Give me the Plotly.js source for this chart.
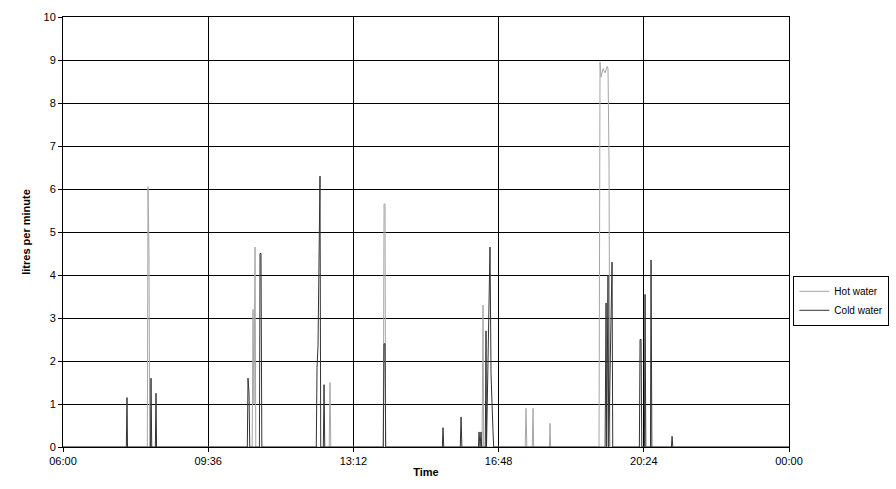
<!DOCTYPE html>
<html>
<head>
<script src="https://cdn.plot.ly/plotly-3.0.1.min.js"></script>
<style>body{margin:0}#chart{width:896px;height:489px}</style>
</head>
<body>
<div id="chart"></div>
<script>
// time in hours of day, flow in litres per minute
var hotTime = [6, 8.09, 8.108, 8.132, 8.15, 10.69, 10.711, 10.735, 10.761, 10.78, 12.6, 12.62, 12.64,
    13.94, 13.96, 13.984, 14.0, 16.39, 16.414, 16.43, 17.46, 17.48, 17.5, 17.635, 17.654, 17.67,
    18.06, 18.075, 18.09, 19.29, 19.315, 19.34, 19.39, 19.44, 19.49, 19.513, 19.538, 19.56, 24];
var hotFlow = [0, 0, 6.05, 4.5, 0, 0, 3.2, 1, 4.65, 0, 0, 1.5, 0,
    0, 5.65, 5.65, 0, 0, 3.3, 0, 0, 0.9, 0, 0, 0.9, 0,
    0, 0.55, 0, 0, 8.95, 8.6, 8.8, 8.7, 8.85, 8.8, 6.6, 0, 0];

var coldTime = [6, 7.57, 7.587, 7.6, 8.17, 8.182, 8.2, 8.29, 8.306, 8.32,
    10.57, 10.587, 10.612, 10.63, 10.87, 10.885, 10.909, 10.93,
    12.28, 12.298, 12.323, 12.372, 12.39, 12.455, 12.472, 12.49,
    13.94, 13.959, 13.984, 14.0, 15.405, 15.422, 15.44, 15.85, 15.869, 15.89,
    16.3, 16.315, 16.34, 16.364, 16.38, 16.47, 16.488, 16.5, 16.587, 16.612, 16.662, 16.68,
    19.44, 19.464, 19.48, 19.513, 19.53, 19.613, 19.63,
    20.29, 20.307, 20.332, 20.35, 20.415, 20.431, 20.45, 20.565, 20.58, 20.6,
    21.085, 21.101, 21.12, 24];
var coldFlow = [0, 0, 1.15, 0, 0, 1.6, 0, 0, 1.25, 0,
    0, 1.6, 1.25, 0, 0, 4.5, 4.5, 0,
    0, 1.85, 2.35, 6.3, 0, 0, 1.45, 0,
    0, 2.4, 2.4, 0, 0, 0.45, 0, 0, 0.7, 0,
    0, 0.35, 0, 0.35, 0, 0, 2.7, 0, 4.65, 1.7, 0.35, 0,
    0, 3.35, 0, 4.0, 0, 4.3, 0,
    0, 2.5, 2.5, 0, 0, 3.55, 0, 0, 4.35, 0,
    0, 0.25, 0, 0];

var tickVals = [6, 9.6, 13.2, 16.8, 20.4, 24];
var tickText = ['06:00', '09:36', '13:12', '16:48', '20:24', '00:00'];

var data = [{
    x: hotTime, y: hotFlow, name: 'Hot water', mode: 'lines',
    line: {color: '#a6a6a6', width: 1}
}, {
    x: coldTime, y: coldFlow, name: 'Cold water', mode: 'lines',
    line: {color: '#333333', width: 1}
}];

var layout = {
    width: 896, height: 489,
    margin: {l: 63, r: 107, t: 17, b: 42, autoexpand: false},
    font: {family: 'Liberation Sans, Arial', size: 11, color: '#000'},
    paper_bgcolor: '#fff', plot_bgcolor: '#fff',
    showlegend: true,
    legend: {x: 1.006, y: 0.34, xanchor: 'left', yanchor: 'middle',
        bordercolor: '#000', borderwidth: 1, font: {size: 10},
        tracegroupgap: 0, itemwidth: 30},
    xaxis: {
        range: [6, 24], tickvals: tickVals, ticktext: tickText,
        showgrid: true, gridcolor: '#000', gridwidth: 1,
        showline: true, linecolor: '#000', mirror: true, zeroline: false,
        ticks: 'outside', ticklen: 4, tickcolor: '#000',
        title: {text: '<b>Time</b>', standoff: 2, font: {size: 11}}
    },
    yaxis: {
        range: [0, 10], dtick: 1,
        showgrid: true, gridcolor: '#000', gridwidth: 1,
        showline: true, linecolor: '#000', mirror: true, zeroline: false,
        ticks: 'outside', ticklen: 4, tickcolor: '#000',
        title: {text: '<b>litres per minute</b>', standoff: 10, font: {size: 11}}
    }
};

Plotly.newPlot('chart', data, layout, {displayModeBar: false});
</script>
</body>
</html>
